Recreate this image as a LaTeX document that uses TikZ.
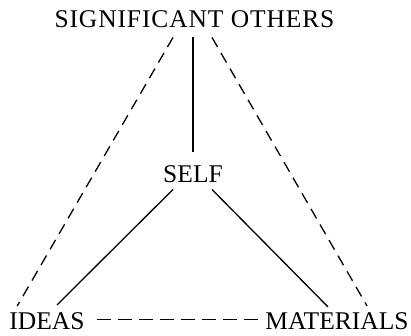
\documentclass[tikz,border=0pt]{standalone}
\usepackage{fontspec}
\setmainfont{Liberation Serif}
\usepackage{tikz}
\usepackage{xcolor}

\tikzset{
  lbl/.style={inner sep=0pt,anchor=base,font=\fontsize{25.5}{25.5}\selectfont},
  link/.style={line width=1.3pt},
  looselink/.style={line width=1.3pt,dash pattern=on 11pt off 7pt}
}

\begin{document}
\begin{tikzpicture}[x=1pt,y=-1pt]
\useasboundingbox (0,0) rectangle (411,335);
\node[lbl] (so) at (194.5,27) {\addfontfeatures{LetterSpace=3.5}SIGNIFICANT OTHERS};
\node[lbl] (self) at (193,182) {SELF};
\node[lbl] (ideas) at (47,329.5) {IDEAS};
\node[lbl] (mat) at (337,329.5) {MATERIALS};
\draw[link] ([shift={(-1.5,10)}]so.south) -- ([shift={(0,-13)}]self.north);
\draw[link] ([shift={(10,7)}]self.south west) -- ([shift={(10,-7.5)}]ideas.north);
\draw[link] ([shift={(-11,7)}]self.south east) -- ([shift={(-9,-5.5)}]mat.north);
\draw[looselink] ([shift={(-21.5,10)}]so.south) -- ([shift={(8,-6.5)}]ideas.north west);
\draw[looselink] ([shift={(17.5,10)}]so.south) -- ([shift={(30,-6.5)}]mat.north);
\draw[looselink,dash pattern=on 14pt off 7pt] ([shift={(12,-1.5)}]ideas.east) -- ([shift={(-7,-1.5)}]mat.west);
\end{tikzpicture}
\end{document}
